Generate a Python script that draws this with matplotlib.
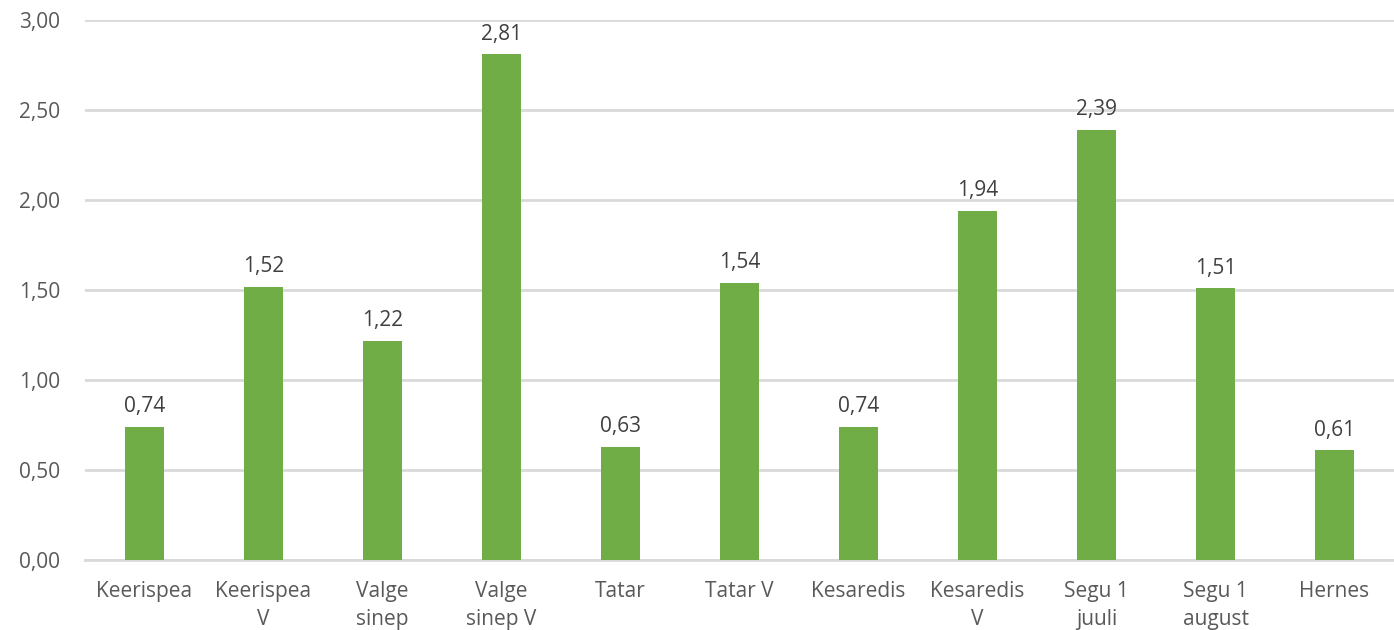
import numpy as np
import matplotlib.pyplot as plt

categories = ["Keerispea", "Keerispea\nV", "Valge\nsinep", "Valge\nsinep V", "Tatar",
              "Tatar V", "Kesaredis", "Kesaredis\nV", "Segu 1\njuuli", "Segu 1\naugust", "Hernes"]
values = [0.74, 1.52, 1.22, 2.81, 0.63, 1.54, 0.74, 1.94, 2.39, 1.51, 0.61]
yticks = [0.0, 0.5, 1.0, 1.5, 2.0, 2.5, 3.0]

plt.rcParams['font.family'] = ['Open Sans', 'DejaVu Sans']

fig = plt.figure(figsize=(13.94, 6.3), dpi=100)
ax = fig.add_axes([0.061, 0.111, 0.939, 0.857])

x = np.arange(len(categories))
bars = ax.bar(x, values, width=0.33, color="#70ad47", zorder=3)

for b, v in zip(bars, values):
    ax.annotate(f"{v:.2f}".replace(".", ","), (b.get_x() + b.get_width() / 2, v),
                xytext=(0, 7), textcoords="offset points", ha="center", va="bottom",
                fontsize=15, color="#404040")

ax.set_xlim(-0.5, len(categories) - 0.5)
ax.set_ylim(0, 3)
ax.set_yticks(yticks)
ax.set_yticklabels([f"{t:.2f}".replace(".", ",") for t in yticks])
ax.set_xticks(x)
ax.set_xticklabels(categories, linespacing=1.45)
ax.tick_params(axis="both", length=0, labelsize=15, labelcolor="#595959")
ax.tick_params(axis="y", pad=18)
ax.tick_params(axis="x", pad=15)

ax.grid(axis="y", color="#d9d9d9", linewidth=2, zorder=0)
for s in ["top", "right", "left"]:
    ax.spines[s].set_visible(False)
ax.spines["bottom"].set_color("#d9d9d9")
ax.spines["bottom"].set_linewidth(2)

fig.savefig("out.png", dpi=100)
